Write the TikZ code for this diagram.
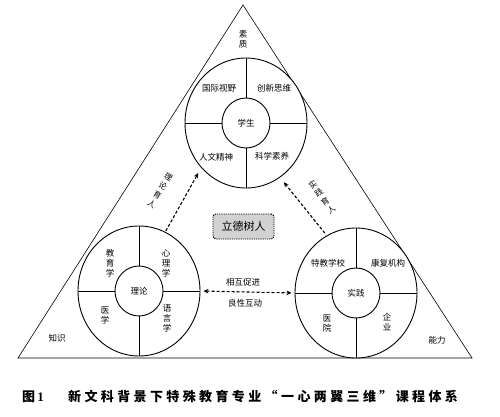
\documentclass[tikz,border=0pt]{standalone}
\usepackage{fontspec}
\setmainfont{Noto Sans CJK SC}
\newfontfamily\capfont[LetterSpace=26]{Noto Sans CJK SC}
\newfontfamily\numfont{Liberation Serif}
\usetikzlibrary{shapes.geometric,arrows.meta}
\begin{document}
\begin{tikzpicture}[x=1pt,y=-1pt,
  outer/.style={ellipse,draw,line width=0.9pt,fill=white,minimum width=122pt,minimum height=130pt,inner sep=0pt},
  innerc/.style={ellipse,draw,line width=0.9pt,fill=white,minimum width=48pt,minimum height=50pt,inner sep=0pt,font=\fontsize{8.5}{10}\selectfont},
  div/.style={line width=0.9pt},
  lbl/.style={font=\fontsize{8.5}{10}\selectfont,inner sep=0pt,align=center},
  rlbl/.style={font=\fontsize{8}{10.5}\selectfont,inner sep=0pt,align=center},
  darr/.style={dash pattern=on 3pt off 2pt,line width=1.1pt,-{Stealth[length=5pt,width=4.5pt]}},
  harr/.style={dash pattern=on 3pt off 2pt,line width=1.1pt,{Stealth[length=5pt,width=4.5pt]}-{Stealth[length=5pt,width=4.5pt]}},
  boxlbl/.style={draw,dash pattern=on 1.2pt off 1pt,line width=0.9pt,fill=gray!35,rounded corners=3pt,minimum width=61pt,minimum height=25pt,inner sep=0pt,font=\fontsize{11}{12}\selectfont}
]
\useasboundingbox (0,0) rectangle (500,417);
% triangle
\coordinate (A) at (243,5);
\coordinate (B) at (18,358);
\coordinate (C) at (472,358);
\draw[line width=0.6pt] (A) -- (B) -- (C) -- cycle;

% circles
\node[outer] (T) at (246,123) {};
\node[outer] (L) at (139,291) {};
\node[outer] (R) at (356,293) {};
\node[innerc] (Ti) at (246,123) {学生};
\node[innerc] (Li) at (139,291) {理论};
\node[innerc] (Ri) at (356,293) {实践};
\foreach \c in {T,L,R}{
  \draw[div] (\c i.north) -- (\c.north);
  \draw[div] (\c i.south) -- (\c.south);
  \draw[div] (\c i.east) -- (\c.east);
  \draw[div] (\c i.west) -- (\c.west);
}

% top labels
\node[lbl] (sz) at (243,39) {素\\质};
\node[lbl] (t1) at (219,88) {国际视野};
\node[lbl] (t2) at (274,88) {创新思维};
\node[lbl] (t3) at (216,157) {人文精神};
\node[lbl] (t4) at (272,156) {科学素养};

% left labels
\node[lbl] (l1) at (110,263) {教\\育\\学};
\node[lbl] (l2) at (166,263) {心\\理\\学};
\node[lbl] (l3) at (105,315) {医\\学};
\node[lbl] (l4) at (167,318) {语\\言\\学};

% right labels
\node[lbl] (r1) at (328,263) {特教学校};
\node[lbl] (r2) at (388,263) {康复机构};
\node[lbl] (r3) at (327,323) {医\\院};
\node[lbl] (r4) at (387,322) {企\\业};

% corners
\node[lbl] (zs) at (57,338) {知识};
\node[lbl] (nl) at (437,340) {能力};

% centre box
\node[boxlbl] (ld) at (243.5,226.5) {立德树人};

% arrows
\draw[darr,shorten >=6pt,shorten <=1pt] (L.66) -- (T.225);
\draw[darr,shorten >=6pt,shorten <=3pt] (R.117) -- (T.302);
\draw[harr,shorten >=3pt,shorten <=3pt] (L.east) -- (R.west);
\node[rlbl,rotate=-32] (lyr) at (160,191) {理\\论\\育\\人};
\node[rlbl,rotate=36] (syr) at (322,197) {实\\践\\育\\人};
\node[lbl] (xh) at (243,282) {相互促进};
\node[lbl] (lx) at (245,303) {良性互动};

% caption
\node[anchor=west,inner sep=0pt,font=\fontsize{13}{13}\selectfont\bfseries] (fig) at (22,397) {图\,{\numfont 1}};
\node[anchor=west,inner sep=0pt] (cap) at (68,397) {\capfont\bfseries\fontsize{13}{13}\selectfont 新文科背景下特殊教育专业“一心两翼三维”课程体系};
\end{tikzpicture}
\end{document}
